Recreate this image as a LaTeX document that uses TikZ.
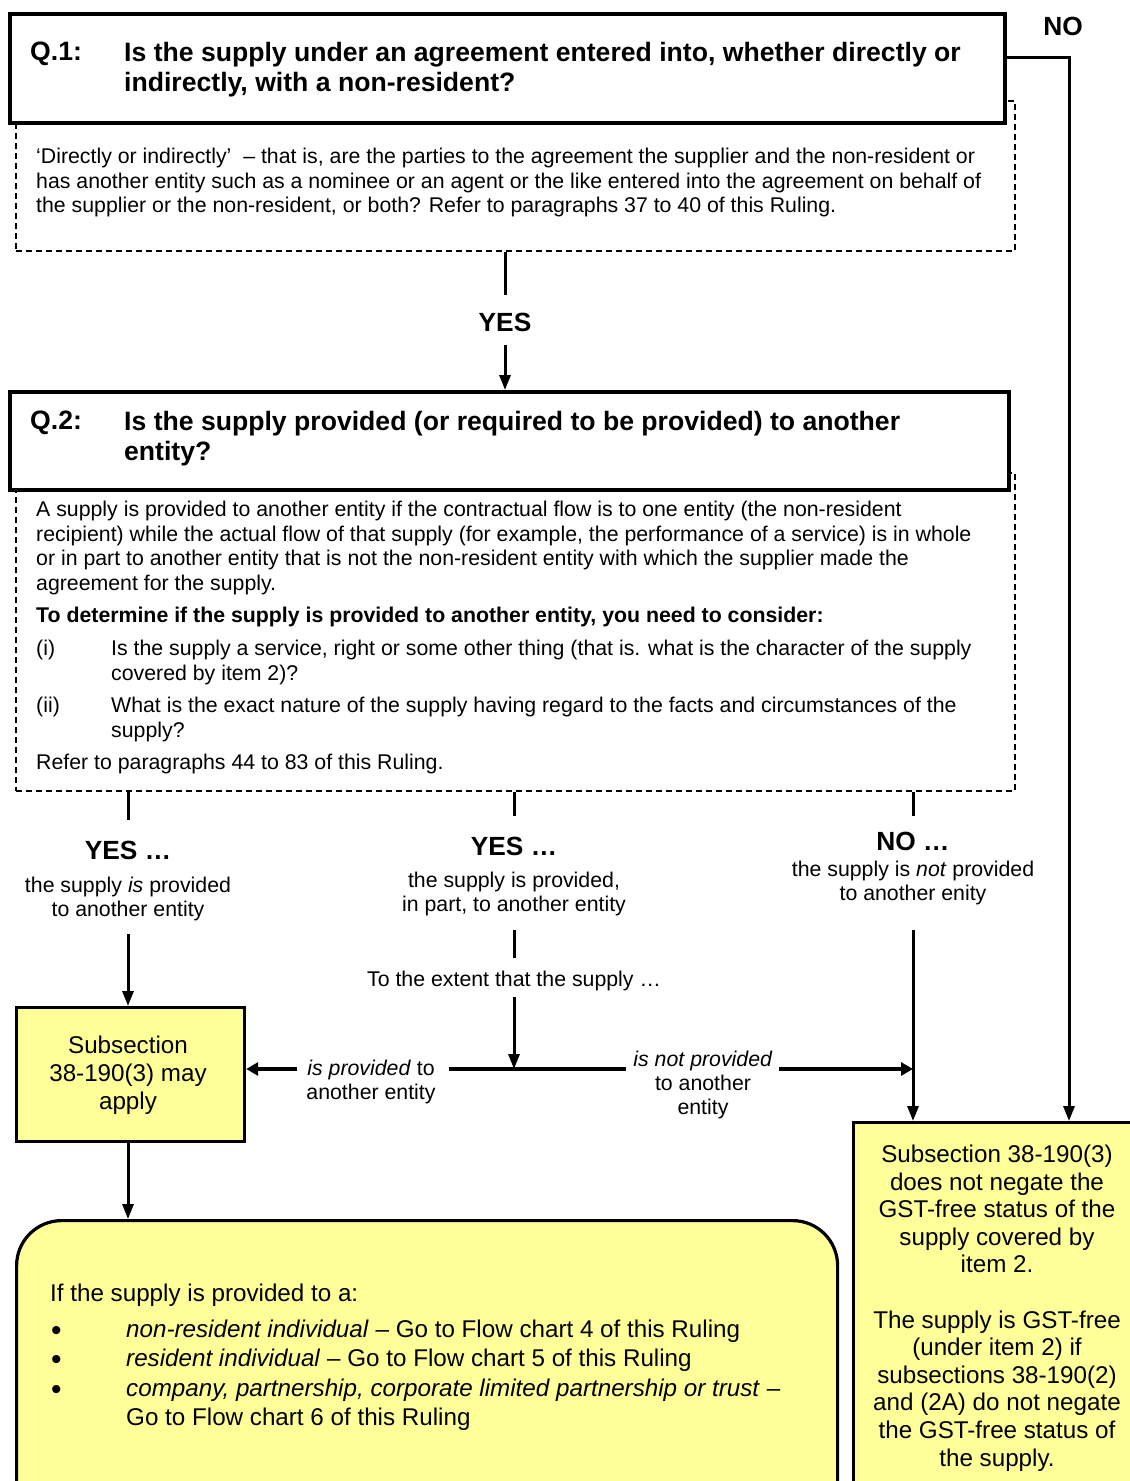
\documentclass[tikz,border=0pt]{standalone}
\usepackage{fontspec}
\setmainfont{Liberation Sans}
\usetikzlibrary{arrows.meta}
\definecolor{boxyellow}{HTML}{FFFF99}
\begin{document}
\begin{tikzpicture}[x=1pt,y=-1pt,
  qbox/.style={draw,line width=4pt,fill=white,inner sep=0pt,anchor=north west},
  dbox/.style={draw,line width=1.5pt,dash pattern=on 6pt off 4pt,inner sep=0pt,anchor=north west},
  ybox/.style={draw,line width=3.2pt,fill=boxyellow,inner sep=0pt,anchor=north west},
  body/.style={inner sep=0pt,font=\fontsize{21.3}{24.5}\selectfont,align=left,anchor=north west},
  qtext/.style={inner sep=0pt,font=\fontsize{26.6}{30}\selectfont\bfseries,align=left,anchor=north west},
  head/.style={inner sep=0pt,font=\fontsize{26.3}{30}\selectfont\bfseries},
  lbl/.style={inner sep=0pt,font=\fontsize{21.3}{24.5}\selectfont,align=center},
  btext/.style={inner sep=0pt,font=\fontsize{24.2}{28}\selectfont,align=center},
  ln/.style={line width=3pt},
  arr/.style={line width=3pt,-{Triangle[length=15pt,width=11pt]}},
  arrh/.style={line width=4.2pt,-{Triangle[length=12pt,width=13pt]}},
]
\useasboundingbox (0,0) rectangle (1130,1481);
\clip (0,0) rectangle (1130,1481);

% ---- Q1 ----
\node[dbox,minimum width=999pt,minimum height=150pt] (d1) at (15,100) {};
\node[qbox,minimum width=995pt,minimum height=109pt] (q1) at (8,12) {};
\node[qtext] (q1l) at (30,42) {Q.1:};
\node[qtext] (q1t) at (124,42) {Is the supply under an agreement entered into, whether directly or\\indirectly, with a non-resident?};
\node[body] (d1t) at (36,148) {‘Directly or indirectly’ \ – that is, are the parties to the agreement the supplier and the non-resident or\\has another entity such as a nominee or an agent or the like entered into the agreement on behalf of\\the supplier or the non-resident, or both? Refer to paragraphs 37 to 40 of this Ruling.};

\node[head] (yes1) at (505,322) {YES};
\coordinate (yes1top) at (505,295);
\coordinate (yes1bot) at (505,345);

% ---- Q2 ----
\node[dbox,minimum width=999pt,minimum height=318pt] (d2) at (15,472) {};
\node[qbox,minimum width=999pt,minimum height=98pt] (q2) at (8,390) {};
\node[qtext] (q2l) at (30,411) {Q.2:};
\node[qtext] (q2t) at (124,411) {Is the supply provided (or required to be provided) to another\\entity?};
\node[body] (p1) at (36,501) {A supply is provided to another entity if the contractual flow is to one entity (the non-resident\\recipient) while the actual flow of that supply (for example, the performance of a service) is in whole\\or in part to another entity that is not the non-resident entity with which the supplier made the\\agreement for the supply.};
\node[body,font=\fontsize{21.3}{24.5}\selectfont\bfseries] (p2) at (36,607) {To determine if the supply is provided to another entity, you need to consider:};
\node[body] (p3a) at (36,640) {(i)};
\node[body] (p3b) at (111,640) {Is the supply a service, right or some other thing (that is. what is the character of the supply\\covered by item 2)?};
\node[body] (p4a) at (36,697) {(ii)};
\node[body] (p4b) at (111,697) {What is the exact nature of the supply having regard to the facts and circumstances of the\\supply?};
\node[body] (p5) at (36,754) {Refer to paragraphs 44 to 83 of this Ruling.};

% ---- branch labels ----
\node[head] (yesA) at (128,850) {YES …};
\node[lbl] (descA) at (128,899) {the supply \textit{is} provided\\to another entity};
\node[head] (yesB) at (514,846) {YES …};
\node[lbl] (descB) at (514,894) {the supply is provided,\\in part, to another entity};
\node[head] (noC) at (913,841) {NO …};
\node[lbl] (descC) at (913,883) {the supply is \textit{not} provided\\to another enity};
\node[lbl] (ext) at (514,981) {To the extent that the supply …};
\node[lbl] (lprov) at (371,1082) {\textit{is provided} to\\another entity};
\node[lbl,font=\fontsize{21.3}{24}\selectfont] (lnot) at (703,1085) {\textit{is not provided}\\to another\\entity};
\node[head] (no1) at (1063,26) {NO};

% ---- yellow boxes ----
\node[ybox,minimum width=228pt,minimum height=134pt] (lbox) at (15,1006) {};
\node[btext] (lboxt) at (128,1075) {Subsection\\38-190(3) may\\apply};
\node[ybox,minimum width=290pt,minimum height=400pt] (rbox) at (852,1121) {};
\node[btext,font=\fontsize{24.2}{27.6}\selectfont] (rboxt) at (997,1308) {Subsection 38-190(3)\\does not negate the\\GST-free status of the\\supply covered by\\item 2.\\[27.6pt]The supply is GST-free\\(under item 2) if\\subsections 38-190(2)\\and (2A) do not negate\\the GST-free status of\\the supply.};
\node[ybox,rounded corners=45pt,minimum width=821pt,minimum height=320pt] (fbox) at (15,1219) {};
\node[body,font=\fontsize{24.2}{29}\selectfont] (fintro) at (50,1284) {If the supply is provided to a:};
\node[body,font=\fontsize{24.2}{29.2}\selectfont] (flist) at (50,1320) {\hbox to 76pt{\hskip1pt\raisebox{-3pt}{\fontsize{30}{30}\selectfont •}\hfil}\textit{non-resident individual} – Go to Flow chart 4 of this Ruling\\
\hbox to 76pt{\hskip1pt\raisebox{-3pt}{\fontsize{30}{30}\selectfont •}\hfil}\textit{resident individual} – Go to Flow chart 5 of this Ruling\\
\hbox to 76pt{\hskip1pt\raisebox{-3pt}{\fontsize{30}{30}\selectfont •}\hfil}\textit{company, partnership, corporate limited partnership or trust} –\\
\hbox to 76pt{\hfil}Go to Flow chart 6 of this Ruling};

% ---- connectors ----
\draw[ln] (yes1top |- d1.south) -- (yes1top);
\draw[arr] (yes1bot) -- (yes1bot |- q2.north);

\coordinate (noTurn) at (1069,57);
\draw[arr] (noTurn -| q1.east) -- (noTurn) -- (noTurn |- rbox.north);

\draw[ln] (yesA |- d2.south) -- ++(0,28);
\draw[ln] (yesB |- d2.south) -- ++(0,24);
\draw[ln] (noC |- d2.south) -- ++(0,24);

\coordinate (aTop) at (128,934);
\draw[arr] (aTop) -- (aTop |- lbox.north);
\coordinate (bTop) at (514,930);
\draw[ln] (bTop) -- (514,958);
\coordinate (bMid) at (514,997);
\coordinate (hLine) at (514,1069);
\draw[arr] (bMid) -- (hLine);
\draw[line width=4.2pt] (449,1069) -- (626,1069);
\coordinate (lArr) at (297,1069);
\draw[arrh] (lArr) -- (lArr -| lbox.east);
\coordinate (rArr) at (779,1069);
\coordinate (cTop) at (913,930);
\draw[arrh] (rArr) -- (rArr -| cTop);
\draw[arr] (cTop) -- (cTop |- rbox.north);
\draw[arr] (lbox.south -| aTop) -- (aTop |- fbox.north);
\end{tikzpicture}
\end{document}
